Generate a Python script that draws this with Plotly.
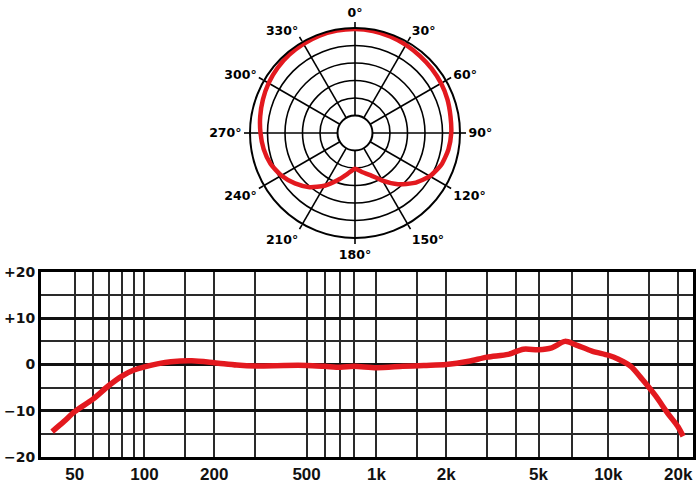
import plotly.graph_objects as go

# ---- polar pattern (dB, relative) ----
polar_angles = [0, 10, 20, 30, 40, 50, 60, 70, 80, 90, 100, 110, 120, 130, 140, 150, 160, 170,
                180, 190, 200, 210, 220, 230, 240, 250, 260, 270, 280, 290, 300, 310, 320, 330,
                340, 350, 360]
polar_db = [-0.3, -0.4, -0.6, -0.9, -1.2, -1.4, -1.6, -1.9, -2.3, -2.5, -2.9, -3.7, -5.3, -7.8,
            -10.9, -14.3, -17.2, -18.7, -19.8, -18.2, -15.7, -12.6, -9.8, -7.6, -5.7, -4.3,
            -3.5, -3.0, -2.5, -2.0, -1.5, -1.1, -0.8, -0.6, -0.4, -0.3, -0.3]
angle_ticks = [0, 30, 60, 90, 120, 150, 180, 210, 240, 270, 300, 330]
angle_labels = ["0°", "30°", "60°", "90°", "120°", "150°", "180°", "210°", "240°", "270°", "300°", "330°"]
ring_db = [-25, -20, -15, -10, -5, 0]

# ---- frequency response ----
freq_hz = [40, 45, 50, 60, 70, 80, 90, 100, 115, 130, 160, 200, 250, 300, 400, 500, 600, 700,
           800, 1000, 1300, 1600, 2000, 2500, 3000, 3700, 4300, 5000, 5700, 6500, 7200, 8500,
           10000, 11000, 12500, 14000, 16000, 18000, 20000, 21000]
resp_db = [-14.5, -12.3, -10.2, -7.5, -4.6, -2.5, -1.2, -0.5, 0.2, 0.6, 0.8, 0.4, -0.1, -0.3,
           -0.2, -0.2, -0.4, -0.6, -0.4, -0.7, -0.4, -0.2, 0.0, 0.7, 1.6, 2.2, 3.3, 3.2, 3.6,
           5.0, 4.3, 2.9, 2.0, 1.2, -0.4, -3.2, -6.8, -10.5, -13.5, -15.5]
freq_ticks = [50, 100, 200, 500, 1000, 2000, 5000, 10000, 20000]
freq_labels = ["50", "100", "200", "500", "1k", "2k", "5k", "10k", "20k"]
freq_minor = [60, 70, 80, 90, 150, 300, 600, 700, 800, 1500, 3000, 4000, 7000, 15000]
db_ticks = [-20, -10, 0, 10, 20]
db_labels = ["−20", "−10", "0", "+10", "+20"]
db_minor = [-15, -5, 5, 15]

RED = "#e3191f"

fig = go.Figure()

fig.add_trace(go.Scatterpolar(
    r=polar_db, theta=polar_angles, mode="lines",
    line=dict(color=RED, width=4.5, shape="spline", smoothing=0.6),
    subplot="polar", showlegend=False, hoverinfo="skip",
))

fig.add_trace(go.Scatter(
    x=freq_hz, y=resp_db, mode="lines",
    line=dict(color=RED, width=5.5, shape="spline", smoothing=0.8),
    showlegend=False, hoverinfo="skip",
))

fig.update_layout(
    width=700, height=494,
    margin=dict(l=0, r=0, t=0, b=0),
    paper_bgcolor="white", plot_bgcolor="white",
    polar=dict(
        domain=dict(x=[250 / 700, 460 / 700], y=[256 / 494, 466 / 494]),
        bgcolor="white",
        hole=1 / 6,
        angularaxis=dict(
            rotation=90, direction="clockwise",
            tickmode="array", tickvals=angle_ticks, ticktext=angle_labels,
            showgrid=True, gridcolor="black", gridwidth=1.6,
            showline=True, linecolor="black", linewidth=2,
            ticks="outside", ticklen=5, tickwidth=1.6, tickcolor="black",
            tickfont=dict(family="DejaVu Sans", size=12.5, color="black", weight="bold"),
        ),
        radialaxis=dict(
            range=[-25, 0], tickmode="array", tickvals=ring_db,
            showticklabels=False, ticks="", showline=False,
            showgrid=True, gridcolor="black", gridwidth=1.6,
        ),
    ),
    xaxis=dict(
        type="log", domain=[41 / 700, 693 / 700], range=[1.554, 4.365],
        tickmode="array", tickvals=freq_ticks, ticktext=freq_labels,
        showgrid=True, gridcolor="#2a2a2a", gridwidth=2,
        minor=dict(tickmode="array", tickvals=freq_minor, showgrid=True,
                   gridcolor="#2a2a2a", gridwidth=2, ticks=""),
        showline=True, mirror=True, linecolor="black", linewidth=3,
        ticks="", ticklabelstandoff=0, automargin=False, zeroline=False,
        tickfont=dict(family="Liberation Sans", size=17, color="#111111", weight="bold"),
    ),
    yaxis=dict(
        domain=[37 / 494, 222 / 494], range=[-20, 20],
        tickmode="array", tickvals=db_ticks, ticktext=db_labels,
        showgrid=True, gridcolor="#111111", gridwidth=3,
        minor=dict(tickmode="array", tickvals=db_minor, showgrid=True,
                   gridcolor="#2a2a2a", gridwidth=2, ticks=""),
        showline=True, mirror=True, linecolor="black", linewidth=3,
        ticks="", ticklabelstandoff=0, automargin=False, zeroline=False,
        tickfont=dict(family="DejaVu Sans", size=14, color="#111111", weight="bold"),
    ),
)

fig.write_html(
    "out.html",
    config={"displayModeBar": False, "staticPlot": True},
    post_script="document.body.style.margin='0';document.body.style.overflow='hidden';",
)
